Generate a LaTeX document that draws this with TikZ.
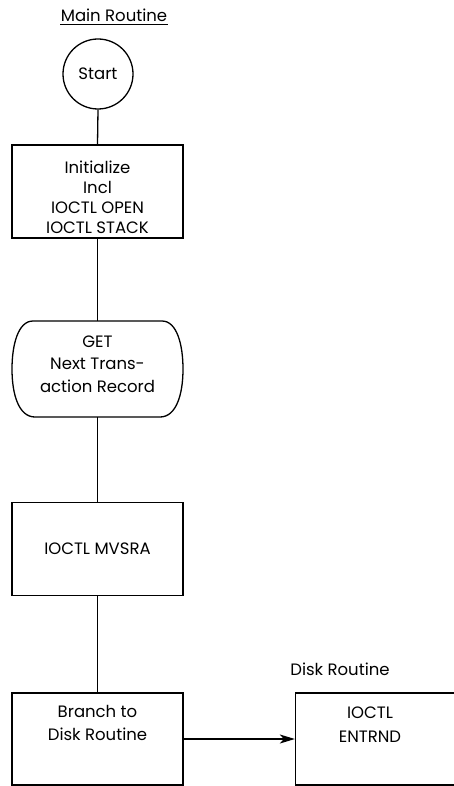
\documentclass[tikz,border=0pt]{standalone}
\usepackage{fontspec}
\setmainfont{Poppins}
\usetikzlibrary{arrows.meta}
\begin{document}
\begin{tikzpicture}[x=1pt,y=1pt,line width=1.3pt,
  txt/.style={font=\fontsize{16.5}{20}\selectfont, align=center, inner sep=0pt},
  box/.style={draw, rectangle, minimum width=171pt, minimum height=93pt, inner sep=0pt, txt}]
\useasboundingbox (0,0) rectangle (453,-786);
% title
\node[txt, anchor=base] (ml) at (114,-22) {Main Routine};
\draw[line width=0.8pt] ([yshift=-2.5pt]ml.base west) -- ([yshift=-2.5pt]ml.base east);
% start
\node[draw, circle, minimum size=70pt, txt] (start) at (98,-74) {Start};
% init box
\node[box] (init) at (97.5,-191.5) {};
\node[txt, anchor=north] (inittxt) at (97.5,-160) {Initialize\\Incl\\IOCTL OPEN\\IOCTL STACK};
% GET shape
\draw (33,-321) -- (162,-321)
  .. controls (177,-321) and (183,-345) .. (183,-369)
  .. controls (183,-395) and (176,-417) .. (160,-417)
  -- (35,-417)
  .. controls (19,-417) and (12,-395) .. (12,-369)
  .. controls (12,-345) and (18,-321) .. (33,-321) -- cycle;
\node[txt, anchor=north, font=\fontsize{16.5}{22.5}\selectfont] (gettxt) at (97.5,-335) {GET\\Next Trans-\\action Record};
\coordinate (gettop) at (97.5,-321);
\coordinate (getbot) at (97.5,-417);
% MVSRA
\node[box] (mvsra) at (97.5,-549) {IOCTL MVSRA};
% Branch
\node[box, minimum height=92pt] (branch) at (97.5,-739) {};
\node[txt, anchor=north, font=\fontsize{16.5}{23}\selectfont] (branchtxt) at (97.5,-705) {Branch to\\Disk Routine};
% Disk routine
\node[txt, anchor=base] (dr) at (340,-675) {Disk Routine};
\node[box, minimum height=92pt] (entrnd) at (381,-739) {};
\node[txt, anchor=north, font=\fontsize{16.5}{24}\selectfont] (entrndtxt) at (370,-706) {IOCTL\\ENTRND};
% connectors
\draw (start.south) -- (init.north);
\draw (init.south) -- (gettop);
\draw (getbot) -- (mvsra.north);
\draw (mvsra.south) -- (branch.north);
\draw[-{Stealth[length=15pt,width=9pt,inset=4pt]}] (branch.east) -- (entrnd.west);
\end{tikzpicture}
\end{document}
